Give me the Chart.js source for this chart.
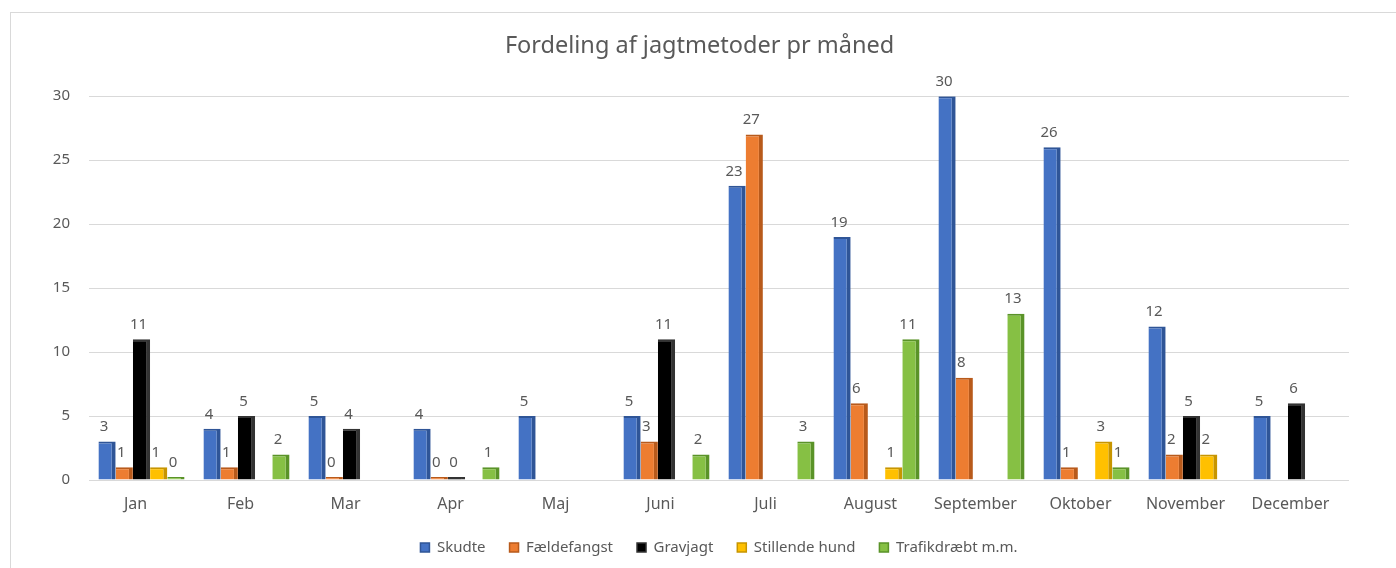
<!DOCTYPE html>
<html>
<head>
<meta charset="utf-8">
<script src="https://cdn.jsdelivr.net/npm/chart.js@4.4.1/dist/chart.umd.min.js"></script>
<style>
  html, body { margin: 0; padding: 0; background: #fff; }
  #frame { position: absolute; left: 10px; top: 12px; width: 1400px; height: 570px; border: 1px solid #d9d9d9; box-sizing: border-box; }
  #wrap { position: absolute; left: 0; top: 0; width: 1396px; height: 568px; }
</style>
</head>
<body>
<div id="frame"></div>
<div id="wrap"><canvas id="c" width="1396" height="568"></canvas></div>
<script>
const months = ["Jan","Feb","Mar","Apr","Maj","Juni","Juli","August","September","Oktober","November","December"];
const skudte      = [3, 4, 5, 4, 5, 5, 23, 19, 30, 26, 12, 5];
const faeldefangst = [1, 1, 0, 0, null, 3, 27, 6, 8, 1, 2, null];
const gravjagt    = [11, 5, 4, 0, null, 11, null, null, null, null, 5, 6];
const stillende   = [1, null, null, null, null, null, null, 1, null, 3, 2, null];
const trafik      = [0, 2, null, 1, null, 2, 3, 11, 13, 1, null, null];
const yTicks = [0, 5, 10, 15, 20, 25, 30];

const colors = {
  skudte: ["#4472C4", "#2F5597"],
  faelde: ["#ED7D31", "#B85A1B"],
  grav:   ["#000000", "#333333"],
  still:  ["#FFC000", "#C79500"],
  trafik: ["#86C044", "#5A9328"]
};

function ds(label, data, c) {
  return {
    label, data,
    backgroundColor: c[0],
    borderColor: c[1],
    borderWidth: {top: 2, right: 4, left: 0, bottom: 0},
    borderSkipped: false,
    barPercentage: 1.0,
    categoryPercentage: 0.82,
    minBarLength: 3
  };
}

const valueLabels = {
  id: 'valueLabels',
  afterDatasetsDraw(chart) {
    const ctx = chart.ctx;
    ctx.save();
    ctx.fillStyle = '#595959';
    ctx.font = '15px "Noto Sans", sans-serif';
    ctx.textAlign = 'center';
    ctx.textBaseline = 'bottom';
    chart.data.datasets.forEach((d, i) => {
      const meta = chart.getDatasetMeta(i);
      meta.data.forEach((el, j) => {
        const v = d.data[j];
        if (v === null || v === undefined) return;
        const top = Math.min(el.y, el.base);
        ctx.fillText(String(v), el.x - 3, top - 7);
      });
    });
    ctx.restore();
  }
};

new Chart(document.getElementById('c'), {
  type: 'bar',
  data: {
    labels: months,
    datasets: [
      ds('Skudte', skudte, colors.skudte),
      ds('Fældefangst', faeldefangst, colors.faelde),
      ds('Gravjagt', gravjagt, colors.grav),
      ds('Stillende hund', stillende, colors.still),
      ds('Trafikdræbt m.m.', trafik, colors.trafik)
    ]
  },
  options: {
    responsive: false,
    animation: false,
    layout: { padding: { left: 50, right: 47, top: 0, bottom: 3 } },
    plugins: {
      title: {
        display: true,
        text: 'Fordeling af jagtmetoder pr måned',
        color: '#595959',
        font: { family: '"Noto Sans", sans-serif', size: 23.5, weight: 'normal' },
        padding: { top: 32, bottom: 36 }
      },
      legend: {
        position: 'bottom',
        fullSize: false,
        labels: {
          color: '#595959',
          font: { family: '"Noto Sans", sans-serif', size: 15 },
          boxWidth: 9, boxHeight: 9,
          padding: 24
        }
      },
      tooltip: { enabled: false }
    },
    scales: {
      x: {
        afterFit(scale) { scale.height = 36; },
        grid: { display: false, drawTicks: false },
        border: { display: false },
        ticks: { color: '#595959', font: { family: '"Noto Sans", sans-serif', size: 16 }, padding: 15, labelOffset: -6 }
      },
      y: {
        min: 0, max: 30,
        afterFit(scale) { scale.width = 39; },
        afterBuildTicks(scale) { scale.ticks = yTicks.map(v => ({ value: v })); },
        grid: { color: '#d9d9d9', drawTicks: false },
        border: { display: false },
        ticks: { color: '#595959', font: { family: '"Noto Sans", sans-serif', size: 15 }, padding: 19 }
      }
    }
  },
  plugins: [valueLabels]
});
</script>
</body>
</html>
